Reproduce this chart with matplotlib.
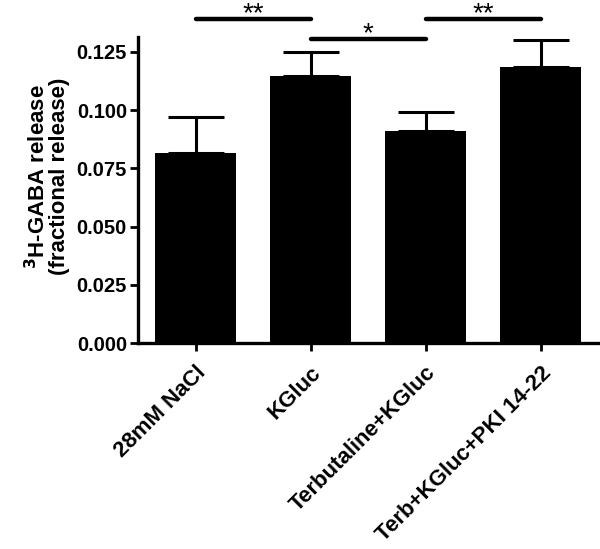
import matplotlib.pyplot as plt

plt.rcParams['font.family'] = ['Liberation Sans', 'DejaVu Sans']
plt.rcParams['font.weight'] = 'bold'

# data
groups = ['28mM NaCl', 'KGluc', 'Terbutaline+KGluc', 'Terb+KGluc+PKI 14-22']
release = [0.0816, 0.1147, 0.0911, 0.1186]
sem = [0.0155, 0.0103, 0.0081, 0.0116]

# significance brackets: (from group, to group, height, label)
brackets = [(0, 1, 0.1392, '**'), (1, 2, 0.1306, '*'), (2, 3, 0.1392, '**')]

fig = plt.figure(figsize=(6, 5.49), dpi=100)
ax = fig.add_axes([0.23, 0.3752, 0.7667, 0.5574])

x = list(range(len(groups)))
ax.bar(x, release, width=0.7, color='black', zorder=2)
ax.errorbar(x, release, yerr=[[0] * len(sem), sem], fmt='none', ecolor='black',
            elinewidth=2.2, capsize=20, capthick=2.2, zorder=1)

for a, b, h, lab in brackets:
    ax.plot([a, b], [h, h], color='black', lw=3.2, solid_capstyle='round', clip_on=False)
    ax.text((a + b) / 2, h - 0.0010, lab, ha='center', va='baseline', fontsize=20,
            fontweight='normal', clip_on=False)

ax.set_xlim(-0.5, 3.5)
ax.set_ylim(0, 0.1314)
ax.set_yticks([0, 0.025, 0.05, 0.075, 0.1, 0.125])
ax.set_yticklabels(['0.000', '0.025', '0.050', '0.075', '0.100', '0.125'],
                   fontsize=14.5, fontweight='bold')
ax.set_xticks(x)
ax.set_xticklabels(groups, rotation=45, ha='right', rotation_mode='anchor',
                   fontsize=16, fontweight='bold')

ax.set_ylabel('$^{3}$H-GABA release\n(fractional release)', fontsize=16,
              fontweight='bold', linespacing=0.95)
ax.yaxis.set_label_coords(-0.148, 0.545)

for s in ['top', 'right']:
    ax.spines[s].set_visible(False)
for s in ['left', 'bottom']:
    ax.spines[s].set_linewidth(2.4)
ax.tick_params(direction='out', length=6, width=2, pad=2)
ax.tick_params(axis='x', pad=8)

fig.savefig('out.png', dpi=100)
